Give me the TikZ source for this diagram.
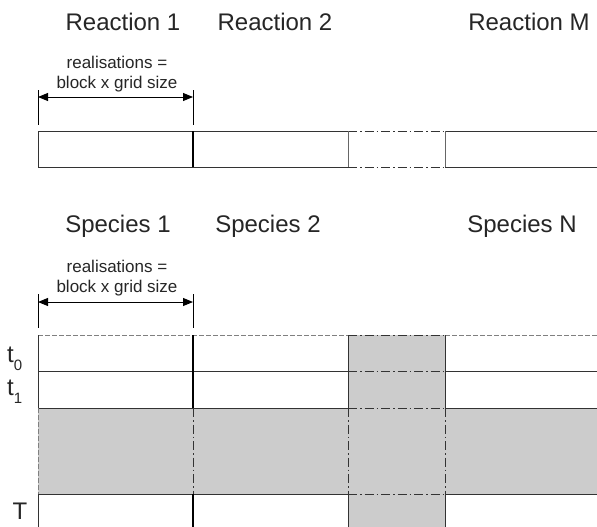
\documentclass[tikz,border=0pt]{standalone}
\usepackage{fontspec}
\setmainfont{Liberation Sans}
\usetikzlibrary{arrows.meta}
\definecolor{fillgrey}{HTML}{CCCCCC}
\definecolor{linecol}{HTML}{333333}
\begin{document}
\begin{tikzpicture}[x=1pt,y=-1pt,
  gridline/.style={draw=linecol,line width=1pt},
  divline/.style={draw=black,line width=1.8pt},
  dashdot/.style={draw=linecol,line width=1pt,dash pattern=on 9pt off 3pt on 1.5pt off 3pt},
  greydash/.style={draw=gray,line width=1pt,dash pattern=on 5pt off 2pt},
  head/.style={font=\fontsize{24}{26}\selectfont,text=black!85,inner sep=0pt},
  note/.style={font=\fontsize{17}{19}\selectfont,text=black!85,align=center,inner sep=0pt},
  dimarrow/.style={draw=black,line width=1pt,{Triangle[length=10pt,width=8pt]}-{Triangle[length=10pt,width=8pt]}},
  tick/.style={draw=black,line width=1pt}
]
\useasboundingbox (0,0) rectangle (597,527);
\fill[white] (0,0) rectangle (597,527);

% ---------- headings ----------
\node[head] (r1) at (123,22) {Reaction 1};
\node[head] (r2) at (275,22) {Reaction 2};
\node[head] (rm) at (529,22) {Reaction M};
\node[head] (s1) at (118,226) {Species 1};
\node[head] (s2) at (268,226) {Species 2};
\node[head] (sn) at (522,226) {Species N};

% ---------- top dimension ----------
\node[note] (n1) at (117,74) {realisations =\\[1pt]block x grid size};
\coordinate (a1l) at (38,97);
\coordinate (a1r) at (193,97);
\draw[tick] (38,90) -- (38,125);
\draw[tick] (193,90) -- (193,125);
\draw[dimarrow] (a1l) -- (a1r);

% ---------- reaction row ----------
\draw[gridline] (38,131) -- (348,131) (445,131) -- (597,131);
\draw[gridline] (38,167) -- (348,167) (445,167) -- (597,167);
\draw[dashdot] (348,131) -- (445,131) (348,167) -- (445,167);
\draw[gridline] (38,131) -- (38,167);
\draw[gridline,draw=gray!80!black] (348,131) -- (348,167) (445,131) -- (445,167);
\draw[divline] (193,131) -- (193,167);

% ---------- bottom dimension ----------
\node[note] (n2) at (117,278) {realisations =\\[1pt]block x grid size};
\coordinate (a2l) at (38,302);
\coordinate (a2r) at (193,302);
\draw[tick] (38,294) -- (38,328);
\draw[tick] (193,294) -- (193,328);
\draw[dimarrow] (a2l) -- (a2r);

% ---------- species grid ----------
\fill[fillgrey] (348,335) rectangle (445,527);
\fill[fillgrey] (38,408) rectangle (597,494);

% horizontals
\draw[greydash] (38,335) -- (348,335) (445,335) -- (597,335);
\draw[dashdot] (348,335) -- (445,335);
\foreach \yy in {371,408,494}{
  \draw[gridline] (38,\yy) -- (348,\yy) (445,\yy) -- (597,\yy);
  \draw[dashdot] (348,\yy) -- (445,\yy);
}
% verticals
\draw[gridline] (38,335) -- (38,408) (38,494) -- (38,527);
\draw[greydash] (38,408) -- (38,494);
\draw[divline] (193,335) -- (193,408) (193,494) -- (193,527);
\draw[dashdot] (193,408) -- (193,494);
\foreach \xx in {348,445}{
  \draw[gridline] (\xx,335) -- (\xx,408) (\xx,494) -- (\xx,527);
  \draw[dashdot] (\xx,408) -- (\xx,494);
}

% row labels
\node[head,anchor=base west] (t0) at (7,362) {t\raisebox{-8pt}{\fontsize{15}{15}\selectfont 0}};
\node[head,anchor=base west] (t1) at (7,395) {t\raisebox{-8pt}{\fontsize{15}{15}\selectfont 1}};
\node[head] (tT) at (20,511) {T};
\end{tikzpicture}
\end{document}
